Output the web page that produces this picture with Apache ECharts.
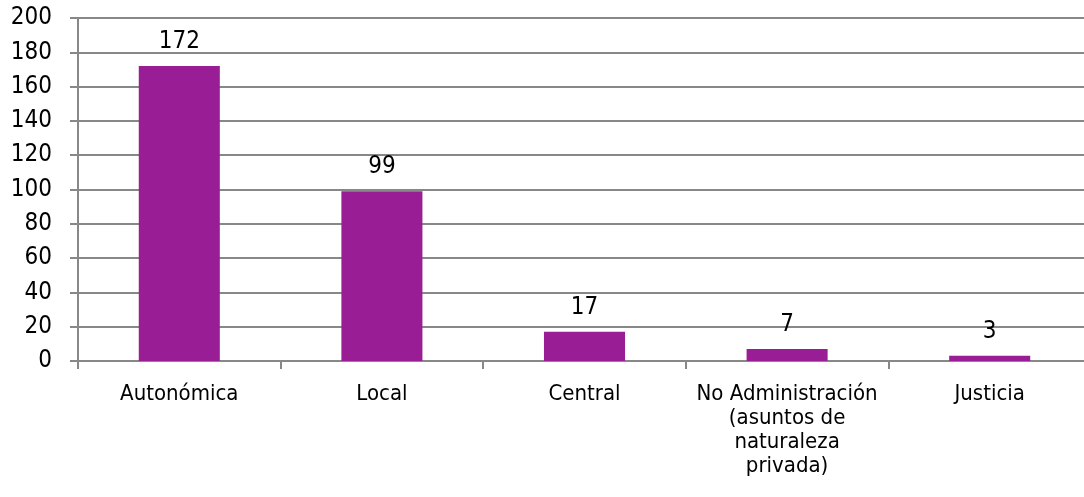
<!DOCTYPE html>
<html>
<head>
<meta charset="utf-8">
<script src="https://cdn.jsdelivr.net/npm/echarts@6/dist/echarts.min.js"></script>
<style>
  html, body { margin: 0; padding: 0; background: #fff; overflow: hidden; }
  /* plot runs slightly past the right edge of the window, as in the source */
  #chart { width: 1091px; height: 497px; }
</style>
</head>
<body>
<div id="chart"></div>
<script>
const categories = ['Autonómica', 'Local', 'Central', 'No Administración\n(asuntos de\nnaturaleza\nprivada)', 'Justicia'];
const values = [172, 99, 17, 7, 3];

const chart = echarts.init(document.getElementById('chart'));
const axisGray = '#888888';
const font = '"DejaVu Sans Condensed", "DejaVu Sans", sans-serif';

chart.setOption({
  animation: false,
  grid: { left: 78, right: 0, top: 18, bottom: 136, containLabel: false },
  xAxis: {
    type: 'category',
    data: categories,
    boundaryGap: true,
    axisLine: { lineStyle: { color: axisGray, width: 2 } },
    axisTick: { show: true, length: 8, lineStyle: { color: axisGray, width: 2 } },
    axisLabel: { color: '#000', fontFamily: font, fontSize: 22, margin: 21, lineHeight: 24, interval: 0 }
  },
  yAxis: {
    type: 'value',
    min: 0,
    max: 200,
    interval: 20,
    axisLine: { show: true, lineStyle: { color: axisGray, width: 2 } },
    axisTick: { show: true, length: 8, lineStyle: { color: axisGray, width: 2 } },
    axisLabel: { color: '#000', fontFamily: font, fontSize: 24, margin: 26 },
    splitLine: { show: true, lineStyle: { color: axisGray, width: 2 } }
  },
  series: [{
    type: 'bar',
    data: values,
    barWidth: '40%',
    itemStyle: { color: '#991E96' },
    label: {
      show: true,
      position: 'top',
      distance: 12,
      color: '#000',
      fontFamily: font,
      fontSize: 24
    }
  }]
});
</script>
</body>
</html>
